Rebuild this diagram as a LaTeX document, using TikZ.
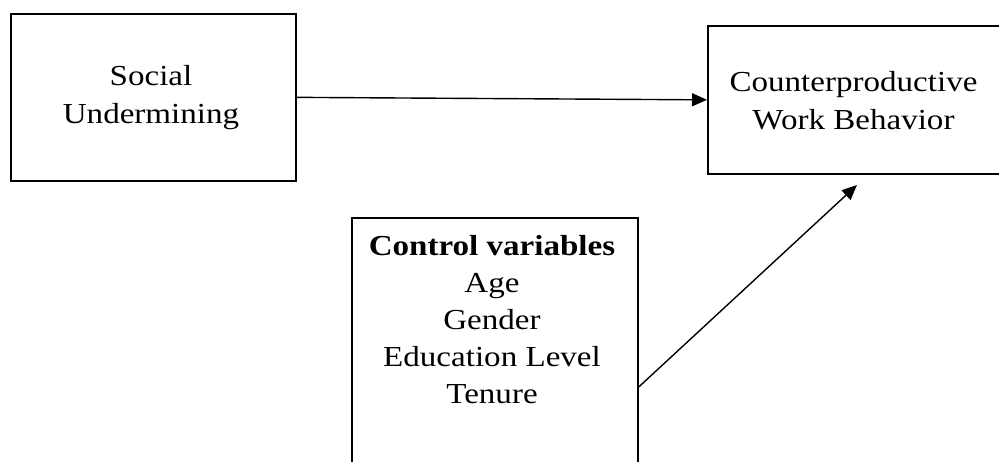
\documentclass[tikz,border=0pt]{standalone}
\usepackage{fontspec}
\setmainfont{Liberation Serif}[FakeStretch=1.14]
\usetikzlibrary{arrows.meta}
\begin{document}
\begin{tikzpicture}[x=1pt,y=-1pt,
  box/.style={draw, line width=1.7pt, rectangle, inner sep=0pt, anchor=north west},
  lbl/.style={align=center, inner sep=0pt, anchor=north, font=\fontsize{29}{38}\selectfont},
  conn/.style={line width=1.4pt, -{Triangle[length=15pt,width=13pt]}}]
\useasboundingbox (0,0) rectangle (999,461);
\fill[white] (0,0) rectangle (999,461);
\node[box, minimum width=285pt, minimum height=167pt] (su) at (10,13) {};
\node[box, minimum width=320pt, minimum height=148pt] (cwb) at (707,25) {};
\node[box, minimum width=286pt, minimum height=290pt] (cv) at (351,217) {};
\node[lbl] (sut) at (151,65) {Social\\Undermining};
\node[lbl] (cwbt) at (853.5,71) {Counterproductive\\Work Behavior};
\node[lbl, font=\fontsize{29}{37}\selectfont] (cvt) at (492,235) {\textbf{Control variables}\\Age\\Gender\\Education Level\\Tenure};
\draw[conn] (su.east) -- (cwb.west);
\coordinate (tip) at (857,185);
\draw[conn] ([yshift=-170pt]cv.north east) -- (tip);
\end{tikzpicture}
\end{document}
